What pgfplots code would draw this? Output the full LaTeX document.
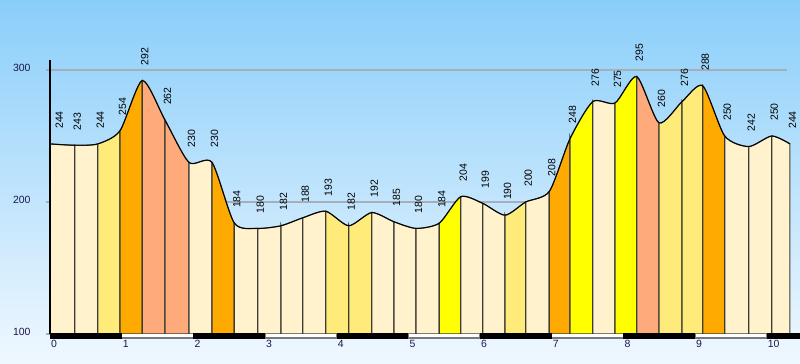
\documentclass[border=0pt]{standalone}
\usepackage{pgfplots}
\pgfplotsset{compat=1.18}
\usepackage{pgfplotstable}
\usepgfplotslibrary{fillbetween}
\usepackage{fontspec}
\setmainfont{Liberation Sans}
\definecolor{cream}{RGB}{255,242,204}
\definecolor{lyel}{RGB}{255,235,122}
\definecolor{yel}{RGB}{255,255,0}
\definecolor{ora}{RGB}{255,170,0}
\definecolor{sal}{RGB}{255,170,122}
\definecolor{skytop}{RGB}{138,206,250}
\definecolor{skybot}{RGB}{240,248,255}
\definecolor{gridc}{RGB}{165,175,185}
\definecolor{barg}{RGB}{120,120,120}
\definecolor{tickc}{RGB}{25,25,75}
\definecolor{edge}{RGB}{60,60,55}

\pgfplotstableread{
x y
0 244
0.345 243
0.666 244
0.977 254
1.288 292
1.605 262
1.939 230
2.260 230
2.572 184
2.898 180
3.223 182
3.526 188
3.847 193
4.168 182
4.489 192
4.800 185
5.107 180
5.432 184
5.731 204
6.037 199
6.349 190
6.637 200
6.967 208
7.256 248
7.572 276
7.884 275
8.186 295
8.497 260
8.818 276
9.107 288
9.414 250
9.749 242
10.070 250
10.325 244
}\profile

\begin{document}
\begin{tikzpicture}
\begin{axis}[
  set layers,
  scale only axis, width=800bp, height=364bp,
  xmin=-0.6976, xmax=10.4646, ymin=77.27, ymax=353.03,
  axis background/.style={top color=skytop, bottom color=skybot},
  axis line style={draw=none},
  tick style={draw=none}, major tick length=0pt,
  xtick={0,...,10}, ytick={100,200,300},
  /pgf/number format/assume math mode=true,
  tick label style={font=\fontsize{10.5}{12}\selectfont, text=tickc, inner sep=0pt},
  xticklabel style={anchor=north west, xshift=1bp, yshift=24bp},
  yticklabel style={anchor=east, xshift=30.7bp, yshift=2bp},
]
% grid lines
\addplot[on layer=axis grid, gridc, line width=2bp] coordinates {(-0.056,300) (10.29,300)};
\addplot[on layer=axis grid, gridc, line width=2bp] coordinates {(-0.056,200) (10.29,200)};
\addplot[on layer=axis grid, gridc, line width=2bp] coordinates {(-0.056,100) (0,100)};

\addplot[name path=prof, black, line width=0.9bp, smooth, tension=0.42] table {\profile};
\addplot[name path=base, draw=none] coordinates {(0,100) (10.325,100)};

\addplot[fill=cream, draw=edge, line width=1.2bp] fill between[of=prof and base, soft clip={domain=0.002:0.345}];
\addplot[fill=cream, draw=edge, line width=1.2bp] fill between[of=prof and base, soft clip={domain=0.345:0.666}];
\addplot[fill=lyel, draw=edge, line width=1.2bp] fill between[of=prof and base, soft clip={domain=0.666:0.977}];
\addplot[fill=ora, draw=edge, line width=1.2bp] fill between[of=prof and base, soft clip={domain=0.977:1.288}];
\addplot[fill=sal, draw=edge, line width=1.2bp] fill between[of=prof and base, soft clip={domain=1.288:1.605}];
\addplot[fill=sal, draw=edge, line width=1.2bp] fill between[of=prof and base, soft clip={domain=1.605:1.939}];
\addplot[fill=cream, draw=edge, line width=1.2bp] fill between[of=prof and base, soft clip={domain=1.939:2.260}];
\addplot[fill=ora, draw=edge, line width=1.2bp] fill between[of=prof and base, soft clip={domain=2.260:2.572}];
\addplot[fill=cream, draw=edge, line width=1.2bp] fill between[of=prof and base, soft clip={domain=2.572:2.898}];
\addplot[fill=cream, draw=edge, line width=1.2bp] fill between[of=prof and base, soft clip={domain=2.898:3.223}];
\addplot[fill=cream, draw=edge, line width=1.2bp] fill between[of=prof and base, soft clip={domain=3.223:3.526}];
\addplot[fill=cream, draw=edge, line width=1.2bp] fill between[of=prof and base, soft clip={domain=3.526:3.847}];
\addplot[fill=lyel, draw=edge, line width=1.2bp] fill between[of=prof and base, soft clip={domain=3.847:4.168}];
\addplot[fill=lyel, draw=edge, line width=1.2bp] fill between[of=prof and base, soft clip={domain=4.168:4.489}];
\addplot[fill=cream, draw=edge, line width=1.2bp] fill between[of=prof and base, soft clip={domain=4.489:4.800}];
\addplot[fill=cream, draw=edge, line width=1.2bp] fill between[of=prof and base, soft clip={domain=4.800:5.107}];
\addplot[fill=cream, draw=edge, line width=1.2bp] fill between[of=prof and base, soft clip={domain=5.107:5.432}];
\addplot[fill=yel, draw=edge, line width=1.2bp] fill between[of=prof and base, soft clip={domain=5.432:5.731}];
\addplot[fill=cream, draw=edge, line width=1.2bp] fill between[of=prof and base, soft clip={domain=5.731:6.037}];
\addplot[fill=cream, draw=edge, line width=1.2bp] fill between[of=prof and base, soft clip={domain=6.037:6.349}];
\addplot[fill=lyel, draw=edge, line width=1.2bp] fill between[of=prof and base, soft clip={domain=6.349:6.637}];
\addplot[fill=cream, draw=edge, line width=1.2bp] fill between[of=prof and base, soft clip={domain=6.637:6.967}];
\addplot[fill=ora, draw=edge, line width=1.2bp] fill between[of=prof and base, soft clip={domain=6.967:7.256}];
\addplot[fill=yel, draw=edge, line width=1.2bp] fill between[of=prof and base, soft clip={domain=7.256:7.572}];
\addplot[fill=cream, draw=edge, line width=1.2bp] fill between[of=prof and base, soft clip={domain=7.572:7.884}];
\addplot[fill=yel, draw=edge, line width=1.2bp] fill between[of=prof and base, soft clip={domain=7.884:8.186}];
\addplot[fill=sal, draw=edge, line width=1.2bp] fill between[of=prof and base, soft clip={domain=8.186:8.497}];
\addplot[fill=lyel, draw=edge, line width=1.2bp] fill between[of=prof and base, soft clip={domain=8.497:8.818}];
\addplot[fill=lyel, draw=edge, line width=1.2bp] fill between[of=prof and base, soft clip={domain=8.818:9.107}];
\addplot[fill=ora, draw=edge, line width=1.2bp] fill between[of=prof and base, soft clip={domain=9.107:9.414}];
\addplot[fill=cream, draw=edge, line width=1.2bp] fill between[of=prof and base, soft clip={domain=9.414:9.749}];
\addplot[fill=cream, draw=edge, line width=1.2bp] fill between[of=prof and base, soft clip={domain=9.749:10.070}];
\addplot[fill=cream, draw=edge, line width=1.2bp] fill between[of=prof and base, soft clip={domain=10.070:10.323}];

% distance bar
\fill[black] (axis cs:0,96.44) rectangle (axis cs:1,100.53);
\fill[barg] (axis cs:1,96.2) rectangle (axis cs:2,100.23);
\fill[white] (axis cs:1.01,97.5) rectangle (axis cs:1.99,99.77);
\fill[black] (axis cs:2,96.44) rectangle (axis cs:3,100.53);
\fill[barg] (axis cs:3,96.2) rectangle (axis cs:4,100.23);
\fill[white] (axis cs:3.01,97.5) rectangle (axis cs:3.99,99.77);
\fill[black] (axis cs:4,96.44) rectangle (axis cs:5,100.53);
\fill[barg] (axis cs:5,96.2) rectangle (axis cs:6,100.23);
\fill[white] (axis cs:5.01,97.5) rectangle (axis cs:5.99,99.77);
\fill[black] (axis cs:6,96.44) rectangle (axis cs:7,100.53);
\fill[barg] (axis cs:7,96.2) rectangle (axis cs:8,100.23);
\fill[white] (axis cs:7.01,97.5) rectangle (axis cs:7.99,99.77);
\fill[black] (axis cs:8,96.44) rectangle (axis cs:9,100.53);
\fill[barg] (axis cs:9,96.2) rectangle (axis cs:10,100.23);
\fill[white] (axis cs:9.01,97.5) rectangle (axis cs:9.99,99.77);
\fill[black] (axis cs:10,96.44) rectangle (axis cs:10.4646,100.53);

% y axis line
\addplot[black, line width=2bp] coordinates {(0,100) (0,307.6)};

% elevation labels
\addplot[draw=none, nodes near coords, skip coords between index={0}{1},
  every node near coord/.append style={font=\fontsize{10.5}{12}\selectfont, text=black, inner sep=0pt,
    xshift=2.5bp, yshift=15bp, rotate=90, anchor=west}] table {\profile};
\addplot[draw=none, nodes near coords, skip coords between index={1}{40},
  every node near coord/.append style={font=\fontsize{10.5}{12}\selectfont, text=black, inner sep=0pt,
    xshift=9.3bp, yshift=15bp, rotate=90, anchor=west}] table {\profile};
\end{axis}
\end{tikzpicture}
\end{document}
